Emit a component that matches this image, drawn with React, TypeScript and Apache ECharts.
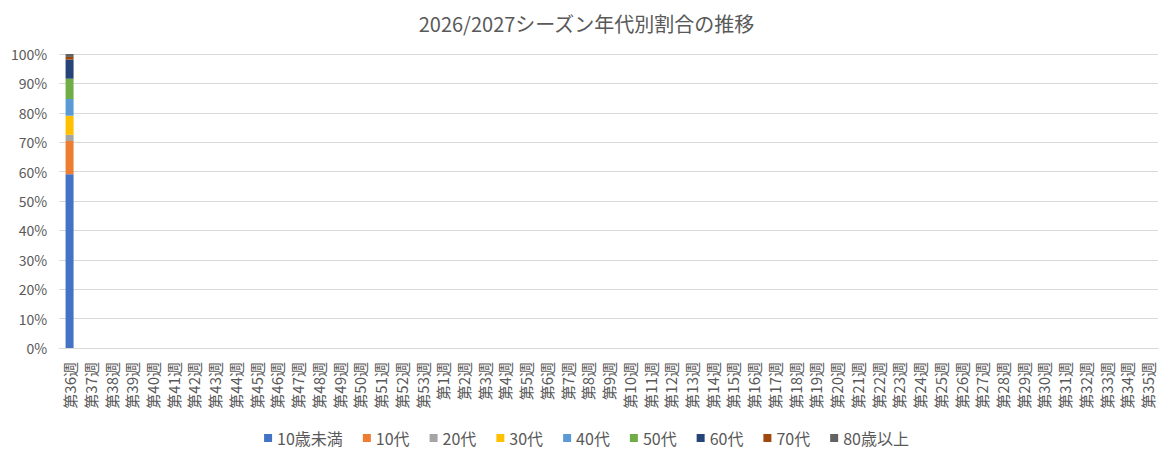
import React, { useEffect, useRef } from "react";
import * as echarts from "echarts";

const weeks: string[] = [
  ...Array.from({ length: 18 }, (_, i) => `第${36 + i}週`),
  ...Array.from({ length: 35 }, (_, i) => `第${1 + i}週`),
];

const seriesNames = ["10歳未満", "10代", "20代", "30代", "40代", "50代", "60代", "70代", "80歳以上"];
const colors = ["#4472C4", "#ED7D31", "#A5A5A5", "#FFC000", "#5B9BD5", "#70AD47", "#264478", "#9E480E", "#636363"];
// share of the first week (第36週), in %
const firstWeek = [59.1, 11.3, 2.1, 6.5, 5.7, 6.9, 6.5, 0.9, 1.0];

const yTicks = [0, 10, 20, 30, 40, 50, 60, 70, 80, 90, 100];

export default function App() {
  const ref = useRef<HTMLDivElement>(null);
  useEffect(() => {
    const chart = echarts.init(ref.current!, undefined, { renderer: "svg" });
    const font = "'Noto Sans CJK JP', 'Noto Sans', sans-serif";
    chart.setOption({
      animation: false,
      textStyle: { fontFamily: font, color: "#595959" },
      title: {
        text: "2026/2027シーズン年代別割合の推移",
        left: "center",
        top: 0,
        textStyle: { fontSize: 20, fontWeight: "normal", color: "#595959", fontFamily: font },
      },
      legend: {
        bottom: 0,
        left: "center",
        itemWidth: 8,
        itemHeight: 8,
        itemGap: 20,
        icon: "rect",
        textStyle: { fontSize: 16, color: "#595959", fontFamily: font },
        data: seriesNames,
      },
      grid: { left: 45, right: 7, top: 46, bottom: 103 },
      xAxis: {
        type: "category",
        data: weeks,
        axisLine: { lineStyle: { color: "#d9d9d9" } },
        axisTick: { show: false },
        axisLabel: { rotate: 90, interval: 0, fontSize: 15, color: "#595959", margin: 14, fontFamily: font },
      },
      yAxis: {
        type: "value",
        min: yTicks[0],
        max: yTicks[yTicks.length - 1],
        interval: 10,
        axisLine: { show: false },
        axisTick: { show: false },
        splitLine: { lineStyle: { color: "#d9d9d9" } },
        axisLabel: { formatter: "{value}%", fontSize: 14, color: "#595959", margin: 12, fontFamily: font },
      },
      series: seriesNames.map((name, i) => ({
        name,
        type: "bar",
        stack: "total",
        barWidth: 8,
        itemStyle: { color: colors[i] },
        data: weeks.map((_, w) => (w === 0 ? firstWeek[i] : null)),
      })),
    });
    return () => chart.dispose();
  }, []);
  return <div ref={ref} style={{ width: 1157, height: 443 }} />;
}
